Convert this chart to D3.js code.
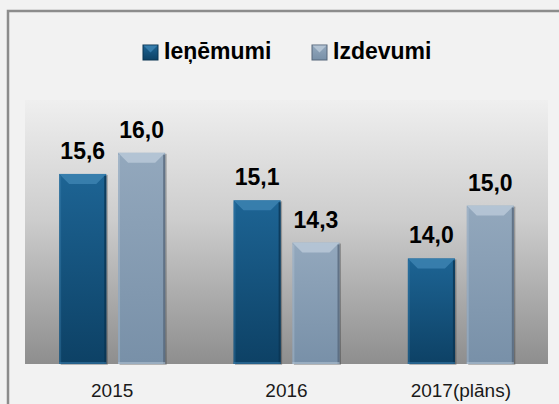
<!DOCTYPE html>
<html>
<head>
<meta charset="utf-8">
<script src="https://cdn.jsdelivr.net/npm/d3@7"></script>
<style>
  html, body { margin: 0; padding: 0; background: #f2f2f2; }
  svg { display: block; }
</style>
</head>
<body>
<svg id="chart"></svg>
<script>
// data
const years = ['2015', '2016', '2017(plāns)'];
const seriesNames = ['Ieņēmumi', 'Izdevumi'];
const income = [15.6, 15.1, 14.0];
const expense = [16.0, 14.3, 15.0];

const width = 559, height = 404;
const plot = { left: 25, right: 548, top: 100, bottom: 364 };

const palette = {
  'Ieņēmumi': { top: '#1d6494', bottom: '#0d4165', bevel: '#3f84b3', side: '#0a3452' },
  'Izdevumi': { top: '#93a8bd', bottom: '#7890a8', bevel: '#bccbd9', side: '#56677a' }
};

const svg = d3.select('#chart').attr('width', width).attr('height', height);
const defs = svg.append('defs');

// plot area gradient
const bg = defs.append('linearGradient').attr('id', 'plotbg')
  .attr('x1', 0).attr('y1', 0).attr('x2', 0).attr('y2', 1);
bg.append('stop').attr('offset', '0%').attr('stop-color', '#efefef');
bg.append('stop').attr('offset', '45%').attr('stop-color', '#cdcdcd');
bg.append('stop').attr('offset', '100%').attr('stop-color', '#8e8e8e');

seriesNames.forEach((s, i) => {
  const g = defs.append('linearGradient').attr('id', 'bar' + i)
    .attr('x1', 0).attr('y1', 0).attr('x2', 0).attr('y2', 1);
  g.append('stop').attr('offset', '0%').attr('stop-color', palette[s].top);
  g.append('stop').attr('offset', '100%').attr('stop-color', palette[s].bottom);
});

// chart border
svg.append('rect')
  .attr('x', 8).attr('y', 11)
  .attr('width', 700).attr('height', 600)
  .attr('fill', '#f2f2f2')
  .attr('stroke', '#8c8c8c')
  .attr('stroke-width', 2.5);

svg.append('rect')
  .attr('x', plot.left).attr('y', plot.top)
  .attr('width', plot.right - plot.left).attr('height', plot.bottom - plot.top)
  .attr('fill', 'url(#plotbg)');

const x0 = d3.scaleBand().domain(years).range([plot.left, plot.right]);
const x1 = d3.scaleBand().domain(seriesNames).range([0, 106]).paddingInner(0.2);
const y = d3.scaleLinear().domain([12, 17]).range([plot.bottom, plot.top]);

const rows = years.map((yr, i) => ({ year: yr, values: [income[i], expense[i]] }));

const groups = svg.append('g').selectAll('g')
  .data(rows).join('g')
  .attr('transform', d => `translate(${x0(d.year) + (x0.bandwidth() - 106) / 2},0)`);

const bars = groups.selectAll('g.bar')
  .data(d => d.values.map((v, i) => ({ name: seriesNames[i], idx: i, value: v })))
  .join('g').attr('class', 'bar');

const bw = x1.bandwidth();
const bev = 10;

// shadow
bars.append('rect')
  .attr('x', d => x1(d.name) + 1.5)
  .attr('y', d => y(d.value) + 1)
  .attr('width', bw)
  .attr('height', d => y(12) - y(d.value))
  .attr('fill', '#000').attr('opacity', 0.25);

bars.append('rect')
  .attr('x', d => x1(d.name))
  .attr('y', d => y(d.value))
  .attr('width', bw)
  .attr('height', d => y(12) - y(d.value))
  .attr('fill', d => `url(#bar${d.idx})`);

// top bevel
bars.append('polygon')
  .attr('points', d => {
    const x = x1(d.name), t = y(d.value);
    return [[x, t], [x + bw, t], [x + bw - bev, t + bev], [x + bev, t + bev]].join(' ');
  })
  .attr('fill', d => palette[d.name].bevel)
  .attr('opacity', 0.8);

// left edge light, right edge dark
bars.append('rect')
  .attr('x', d => x1(d.name))
  .attr('y', d => y(d.value) + 2)
  .attr('width', 2)
  .attr('height', d => y(12) - y(d.value) - 2)
  .attr('fill', d => palette[d.name].bevel).attr('opacity', 0.35);

bars.append('rect')
  .attr('x', d => x1(d.name) + bw - 2)
  .attr('y', d => y(d.value) + 2)
  .attr('width', 2)
  .attr('height', d => y(12) - y(d.value) - 2)
  .attr('fill', d => palette[d.name].side).attr('opacity', 0.8);

// bottom line
bars.append('rect')
  .attr('x', d => x1(d.name))
  .attr('y', y(12) - 2)
  .attr('width', bw)
  .attr('height', 2)
  .attr('fill', d => palette[d.name].bevel).attr('opacity', 0.5);

// value labels
bars.append('text')
  .attr('x', d => x1(d.name) + bw / 2)
  .attr('y', d => y(d.value) - 15)
  .attr('text-anchor', 'middle')
  .style('font-family', 'Liberation Sans, Arial, sans-serif')
  .style('font-weight', 'bold')
  .style('font-size', '23px')
  .attr('fill', '#000')
  .text(d => d.value.toFixed(1).replace('.', ','));

// x axis
const xAxis = d3.axisBottom(x0).tickSize(0).tickPadding(0);
const ax = svg.append('g')
  .attr('transform', `translate(0, ${plot.bottom})`)
  .call(xAxis);
ax.select('.domain').remove();
ax.selectAll('text')
  .attr('dy', 0).attr('y', 33)
  .style('font-family', 'Liberation Sans, Arial, sans-serif')
  .style('font-size', '19px')
  .attr('fill', '#1a1a1a');

// legend
const legendX = [143, 312];
const legend = svg.append('g').selectAll('g')
  .data(seriesNames).join('g')
  .attr('transform', (d, i) => `translate(${legendX[i]}, 45)`);

legend.append('rect')
  .attr('width', 15).attr('height', 15)
  .attr('fill', (d, i) => `url(#bar${i})`)
  .attr('stroke', d => palette[d].side).attr('stroke-width', 1);
legend.append('polygon')
  .attr('points', '0.5,0.5 14.5,0.5 7.5,7.5')
  .attr('fill', d => palette[d].bevel).attr('opacity', 0.8);

legend.append('text')
  .attr('x', 21).attr('y', 14)
  .style('font-family', 'Liberation Sans, Arial, sans-serif')
  .style('font-weight', 'bold')
  .style('font-size', '23px')
  .attr('fill', '#000')
  .text(d => d);
</script>
</body>
</html>
